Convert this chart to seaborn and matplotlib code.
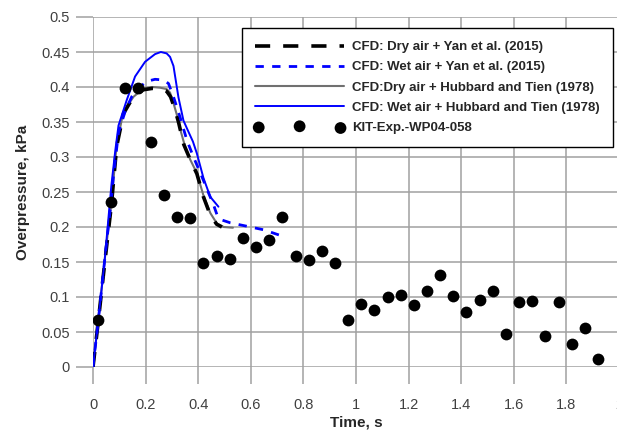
import matplotlib
matplotlib.use("Agg")
import matplotlib.pyplot as plt
import seaborn as sns
import numpy as np

# ---- data ----
t_dry_yan = [0, 0.02, 0.045, 0.07, 0.09, 0.116, 0.15, 0.19, 0.225, 0.26, 0.28, 0.295, 0.31, 0.325,
             0.345, 0.37, 0.395, 0.42, 0.445, 0.47, 0.49]
p_dry_yan = [0, 0.065, 0.15, 0.232, 0.315, 0.362, 0.384, 0.396, 0.398, 0.397, 0.394, 0.386, 0.37, 0.35,
             0.318, 0.296, 0.276, 0.243, 0.218, 0.204, 0.2]

t_wet_yan = [0, 0.02, 0.045, 0.07, 0.077, 0.097, 0.122, 0.147, 0.179, 0.204, 0.236, 0.268, 0.287, 0.306,
             0.331, 0.357, 0.382, 0.414, 0.44, 0.458, 0.471, 0.49, 0.522, 0.586, 0.649, 0.712]
p_wet_yan = [0, 0.066, 0.155, 0.24, 0.27, 0.335, 0.365, 0.386, 0.4, 0.408, 0.411, 0.41, 0.405, 0.386,
             0.357, 0.324, 0.300, 0.272, 0.248, 0.232, 0.218, 0.21, 0.206, 0.201, 0.196, 0.188]

t_dry_ht = [0, 0.02, 0.045, 0.07, 0.09, 0.116, 0.154, 0.192, 0.225, 0.255, 0.28, 0.293, 0.306, 0.319,
            0.335, 0.35, 0.37, 0.395, 0.42, 0.446, 0.471, 0.497, 0.532]
p_dry_ht = [0, 0.067, 0.155, 0.235, 0.318, 0.365, 0.386, 0.398, 0.400, 0.399, 0.397, 0.392, 0.377, 0.36,
            0.335, 0.315, 0.296, 0.277, 0.245, 0.22, 0.205, 0.2, 0.199]

t_wet_ht = [0, 0.02, 0.045, 0.07, 0.085, 0.097, 0.128, 0.16, 0.198, 0.236, 0.258, 0.28, 0.293, 0.306,
            0.325, 0.344, 0.363, 0.38, 0.395, 0.42, 0.446, 0.477]
p_wet_ht = [0, 0.066, 0.155, 0.26, 0.31, 0.345, 0.381, 0.415, 0.436, 0.447, 0.450, 0.448, 0.443, 0.43,
            0.385, 0.352, 0.336, 0.322, 0.305, 0.270, 0.243, 0.229]

t_exp = [0.02, 0.07, 0.12, 0.17, 0.22, 0.27, 0.32, 0.37, 0.42, 0.47, 0.52, 0.57, 0.62, 0.67, 0.72,
         0.77, 0.82, 0.87, 0.92, 0.97, 1.02, 1.07, 1.12, 1.17, 1.22, 1.27, 1.32, 1.37, 1.42, 1.47,
         1.52, 1.57, 1.62, 1.67, 1.72, 1.77, 1.82, 1.87, 1.92]
p_exp = [0.067, 0.236, 0.399, 0.399, 0.321, 0.246, 0.214, 0.213, 0.149, 0.159, 0.154, 0.184, 0.171,
         0.181, 0.214, 0.158, 0.153, 0.166, 0.148, 0.067, 0.090, 0.081, 0.100, 0.103, 0.088, 0.108,
         0.132, 0.102, 0.079, 0.096, 0.108, 0.047, 0.093, 0.095, 0.045, 0.093, 0.033, 0.056, 0.011]

labels = ["CFD: Dry air + Yan et al. (2015)",
          "CFD: Wet air + Yan et al. (2015)",
          "CFD:Dry air + Hubbard and Tien (1978)",
          "CFD: Wet air + Hubbard and Tien (1978)",
          "KIT-Exp.-WP04-058"]
xticks = [0, 0.2, 0.4, 0.6, 0.8, 1.0, 1.2, 1.4, 1.6, 1.8, 2.0]
xticklabels = ["0", "0.2", "0.4", "0.6", "0.8", "1", "1.2", "1.4", "1.6", "1.8", "2"]
yticks = [0, 0.05, 0.1, 0.15, 0.2, 0.25, 0.3, 0.35, 0.4, 0.45, 0.5]
yticklabels = ["0", "0.05", "0.1", "0.15", "0.2", "0.25", "0.3", "0.35", "0.4", "0.45", "0.5"]

# ---- style ----
sns.set_style("white")
plt.rcParams["font.family"] = ["Liberation Sans", "DejaVu Sans"]

fig = plt.figure(figsize=(6.17, 4.30), dpi=100)
ax = fig.add_axes([93 / 617, 63 / 430, 526 / 617, 350 / 430])

grid_c = "#a0a0a0"
sns.lineplot(x=t_dry_ht, y=p_dry_ht, ax=ax, color="#707070", lw=1.5, sort=False,
             estimator=None, label=labels[2], zorder=3)
sns.lineplot(x=t_dry_yan, y=p_dry_yan, ax=ax, color="black", lw=2.6, sort=False,
             estimator=None, label=labels[0], zorder=4)
ax.lines[-1].set_dashes([4.2, 3.6])
sns.lineplot(x=t_wet_yan, y=p_wet_yan, ax=ax, color="#0000ff", lw=2.0, sort=False,
             estimator=None, label=labels[1], zorder=5)
ax.lines[-1].set_dashes([3, 3])
sns.lineplot(x=t_wet_ht, y=p_wet_ht, ax=ax, color="#0000ff", lw=1.4, sort=False,
             estimator=None, label=labels[3], zorder=6)
sns.scatterplot(x=t_exp, y=p_exp, ax=ax, color="black", s=72, edgecolor="black",
                linewidth=0, label=labels[4], zorder=7)

ax.set_xlim(0, 2)
ax.set_ylim(0, 0.5)
ax.set_xticks(xticks)
ax.set_xticklabels(xticklabels)
ax.set_yticks(yticks)
ax.set_yticklabels(yticklabels)
ax.grid(True, color=grid_c, lw=1.1)
ax.set_axisbelow(True)
for s in ax.spines.values():
    s.set_visible(False)
ax.tick_params(axis="both", direction="out", length=12.5, width=1.1, color=grid_c,
               labelsize=10.5, labelcolor="#404040", bottom=True, left=True)
ax.tick_params(axis="x", pad=9.5)
ax.tick_params(axis="y", pad=4)

ax.set_xlabel("Time, s", fontsize=11, fontweight="bold", labelpad=3)
ax.set_ylabel("Overpressure, kPa", fontsize=11, fontweight="bold", labelpad=8)

handles, labs = ax.get_legend_handles_labels()
order = [labs.index(l) for l in labels]
leg = ax.legend([handles[i] for i in order], [labs[i] for i in order],
                loc="upper right", bbox_to_anchor=(0.989, 0.969), borderaxespad=0,
                frameon=True, fancybox=False, edgecolor="black", framealpha=1,
                prop={"weight": "bold", "size": 9.5}, handlelength=6.8, handletextpad=0.6,
                labelspacing=0.6, scatterpoints=3, borderpad=1.0)
leg.get_frame().set_linewidth(1.0)

fig.savefig("out.png", dpi=100)
